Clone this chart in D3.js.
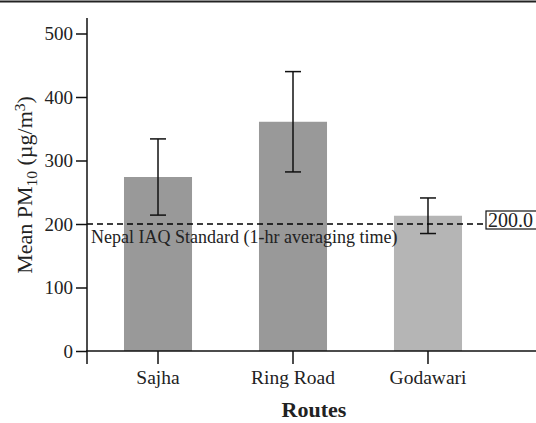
<!DOCTYPE html>
<html>
<head>
<meta charset="utf-8">
<script src="https://cdn.jsdelivr.net/npm/d3@7"></script>
<style>
  body { margin: 0; background: #fff; }
  text { font-family: "Liberation Serif", "Times New Roman", serif; fill: #222; }
</style>
</head>
<body>
<div id="chart"></div>
<script>
const WIDTH = 536;
const HEIGHT = 423;

const routes = ["Sajha", "Ring Road", "Godawari"];
const meanPM10 = [274, 361, 213];
const errorPM10 = [60, 79, 28];
const barColors = ["#999999", "#999999", "#b5b5b5"];
const yTicks = [0, 100, 200, 300, 400, 500];
const standardValue = 200;

const svg = d3.select("#chart")
    .append("svg")
    .attr("width", WIDTH)
    .attr("height", HEIGHT);

// top rule
svg.append("line")
    .attr("x1", 0).attr("x2", WIDTH)
    .attr("y1", 1.5).attr("y2", 1.5)
    .attr("stroke", "#222")
    .attr("stroke-width", 2);

const x = d3.scaleBand()
    .domain(routes)
    .range([87, 499])
    .paddingInner(0.496)
    .paddingOuter(0.274);

const y = d3.scaleLinear()
    .domain([0, 500])
    .range([351, 33.5]);

// bars
svg.selectAll("rect.bar")
    .data(routes)
    .enter()
    .append("rect")
    .attr("class", "bar")
    .attr("x", d => x(d))
    .attr("width", x.bandwidth())
    .attr("y", (d, i) => y(meanPM10[i]))
    .attr("height", (d, i) => y(0) - y(meanPM10[i]))
    .attr("fill", (d, i) => barColors[i]);

// error bars
const capHalf = 8;
const err = svg.selectAll("g.err")
    .data(routes)
    .enter()
    .append("g")
    .attr("class", "err")
    .attr("stroke", "#111")
    .attr("stroke-width", 1.5);

err.append("line")
    .attr("x1", d => x(d) + x.bandwidth() / 2)
    .attr("x2", d => x(d) + x.bandwidth() / 2)
    .attr("y1", (d, i) => y(meanPM10[i] + errorPM10[i]))
    .attr("y2", (d, i) => y(meanPM10[i] - errorPM10[i]));

[1, -1].forEach(sign => {
    err.append("line")
        .attr("x1", d => x(d) + x.bandwidth() / 2 - capHalf)
        .attr("x2", d => x(d) + x.bandwidth() / 2 + capHalf)
        .attr("y1", (d, i) => y(meanPM10[i] + sign * errorPM10[i]))
        .attr("y2", (d, i) => y(meanPM10[i] + sign * errorPM10[i]));
});

// standard line
const labelBoxX = 486;
svg.append("line")
    .attr("x1", 87).attr("x2", labelBoxX)
    .attr("y1", y(standardValue)).attr("y2", y(standardValue))
    .attr("stroke", "#000")
    .attr("stroke-width", 1.5)
    .attr("stroke-dasharray", "6,4");

svg.append("text")
    .attr("x", 91)
    .attr("y", y(standardValue) + 19)
    .attr("font-size", 18)
    .text("Nepal IAQ Standard (1-hr averaging time)");

svg.append("rect")
    .attr("x", labelBoxX)
    .attr("y", y(standardValue) - 13)
    .attr("width", 60)
    .attr("height", 18)
    .attr("fill", "#fff")
    .attr("stroke", "#111")
    .attr("stroke-width", 1.2);

svg.append("text")
    .attr("x", labelBoxX + 2)
    .attr("y", y(standardValue) + 3)
    .attr("font-size", 20)
    .text(standardValue.toFixed(1));

// y axis
const yAxis = svg.append("g")
    .attr("transform", "translate(87,0)")
    .call(d3.axisLeft(y).tickValues(yTicks).tickSize(11).tickPadding(3));
yAxis.select(".domain").remove();
yAxis.selectAll(".tick line").attr("stroke", "#111").attr("stroke-width", 1.5);
yAxis.selectAll(".tick text")
    .attr("font-size", 19)
    .attr("font-family", "Liberation Serif, serif")
    .attr("fill", "#222");
svg.append("line")
    .attr("x1", 87).attr("x2", 87)
    .attr("y1", 18).attr("y2", 364)
    .attr("stroke", "#111")
    .attr("stroke-width", 1.5);

// x axis
const xAxis = svg.append("g")
    .attr("transform", "translate(0,351)")
    .call(d3.axisBottom(x).tickSize(13).tickPadding(6));
xAxis.select(".domain").remove();
xAxis.selectAll(".tick line").attr("stroke", "#111").attr("stroke-width", 1.5);
xAxis.selectAll(".tick text")
    .attr("font-size", 19.5)
    .attr("font-family", "Liberation Serif, serif")
    .attr("fill", "#222");
svg.append("line")
    .attr("x1", 86).attr("x2", WIDTH)
    .attr("y1", 351).attr("y2", 351)
    .attr("stroke", "#111")
    .attr("stroke-width", 1.5);

// axis titles
svg.append("text")
    .attr("x", 314)
    .attr("y", 417)
    .attr("text-anchor", "middle")
    .attr("font-size", 22)
    .attr("font-weight", "bold")
    .text("Routes");

const yTitle = svg.append("text")
    .attr("transform", "translate(32,185) rotate(-90)")
    .attr("text-anchor", "middle")
    .attr("font-size", 22);
yTitle.append("tspan").text("Mean PM");
yTitle.append("tspan").attr("dy", 5).attr("font-size", 15.5).text("10");
yTitle.append("tspan").attr("dy", -5).text(" (µg/m");
yTitle.append("tspan").attr("dy", -7).attr("font-size", 15.5).text("3");
yTitle.append("tspan").attr("dy", 7).text(")");
</script>
</body>
</html>
